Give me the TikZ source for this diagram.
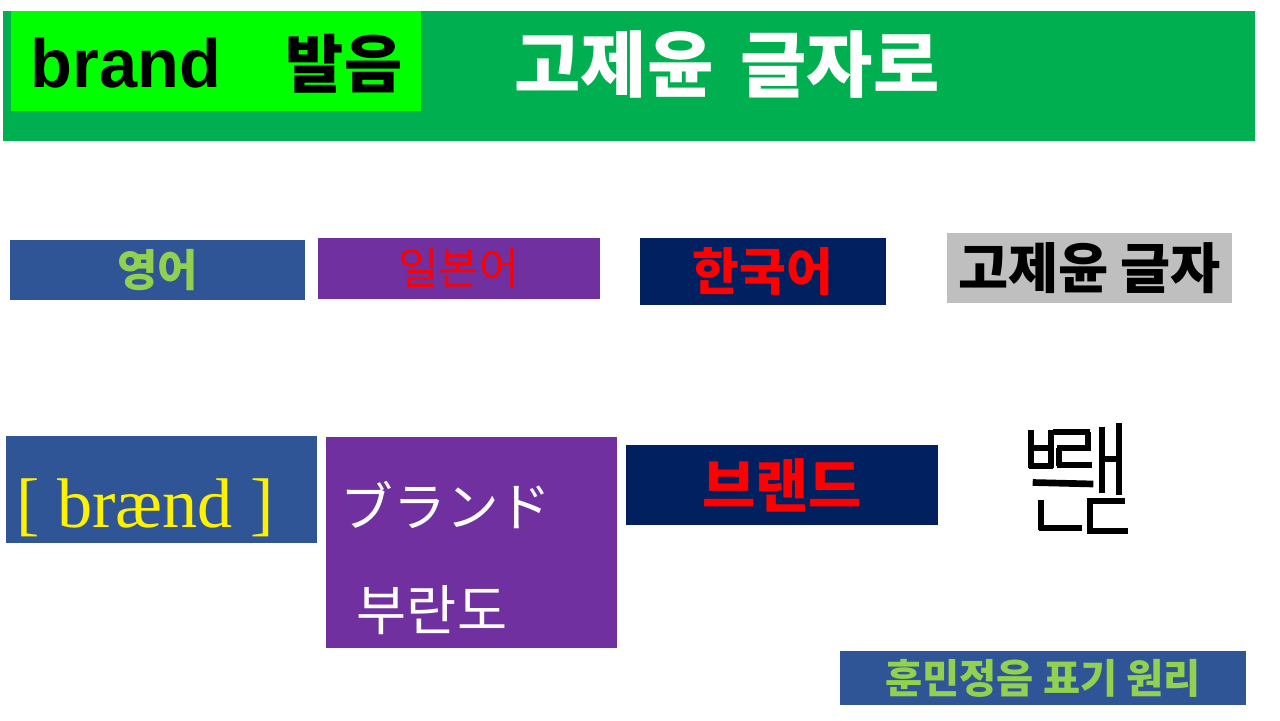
\documentclass[tikz,border=0pt]{standalone}
\usepackage{fontspec}
\setmainfont{Liberation Serif}
\newfontfamily\krfont{Noto Sans CJK KR}
\newfontfamily\jpfont{Noto Sans CJK JP}
\newfontfamily\latinsans{Liberation Sans}
\usetikzlibrary{positioning}

\definecolor{bargreen}{HTML}{00B050}
\definecolor{limegreen}{HTML}{00FF00}
\definecolor{boxblue}{HTML}{2F5597}
\definecolor{boxpurple}{HTML}{7030A0}
\definecolor{boxnavy}{HTML}{002060}
\definecolor{boxgray}{HTML}{BFBFBF}
\definecolor{leafgreen}{HTML}{92D050}

\newcommand\fsz[1]{\fontsize{#1}{#1}\selectfont}

\begin{document}
\begin{tikzpicture}[x=0.02cm,y=-0.02cm,
  box/.style={inner sep=0pt,outer sep=0pt},
  jamo/.style={line width=3.3pt,line cap=butt}]
\useasboundingbox (0,0) rectangle (1280,720);

% title bar
\node[box,fill=bargreen,minimum width=25.04cm,minimum height=2.6cm] (bar) at (629,76) {};
\node[box,fill=limegreen,minimum width=8.2cm,minimum height=2cm] (tag) at (216,61) {};
\node[font=\latinsans\bfseries\fsz{39}] (brand) at (126,63) {brand};
\node[font=\krfont\bfseries\fsz{36}] (pron) at (344,64) {발음};
\node[font=\krfont\bfseries\fsz{41},text=white] (title) at (727,65) {고제윤\hspace{0.15em} 글자로};

% languages
\node[box,fill=boxblue,minimum width=5.9cm,minimum height=1.2cm,
  font=\krfont\bfseries\fsz{25},text=leafgreen] (eng) at (157.5,270) {영어};
\node[box,fill=boxpurple,minimum width=5.64cm,minimum height=1.22cm,
  font=\krfont\fsz{25},text=red] (jpn) at (459,268.5) {일본어};
\node[box,fill=boxnavy,minimum width=4.92cm,minimum height=1.34cm,
  font=\krfont\bfseries\fsz{29},text=red] (kor) at (763,271.5) {한국어};
\node[box,fill=boxgray,minimum width=5.7cm,minimum height=1.4cm,
  font=\krfont\bfseries\fsz{31}] (gjy) at (1089.5,268) {고제윤 글자};

% readings
\node[box,fill=boxblue,minimum width=6.22cm,minimum height=2.14cm] (ipabox) at (161.5,489.5) {};
\node[font=\fsz{40},text=yellow] (ipa) at (145,508) {[ brænd ]};
\node[box,fill=boxpurple,minimum width=5.82cm,minimum height=4.22cm] (jpbox) at (471.5,542.5) {};
\node[font=\jpfont\fsz{30},text=white] (kana) at (446,505) {ブランド};
\node[font=\krfont\fsz{31},text=white] (hkana) at (432,610) {부란도};
\node[box,fill=boxnavy,minimum width=6.24cm,minimum height=1.6cm,
  font=\krfont\bfseries\fsz{33},text=red] (korbrand) at (782,485) {브랜드};

% composed letter
\draw[jamo] (1030.7,430) -- (1030.7,468) (1051.3,430) -- (1051.3,468)
  (1030.7,448.3) -- (1051.3,448.3) (1029,465.7) -- (1053,465.7);
\draw[jamo] (1053,432) -- (1090,432) (1088.3,432) -- (1088.3,449)
  (1057,447.7) -- (1090.5,447.7) (1058.7,447.7) -- (1058.7,466)
  (1057,465.3) -- (1092,465.3);
\draw[line width=3.8pt] (1032.7,482.5) -- (1093.3,484);
\draw[jamo] (1102.3,426.7) -- (1102.3,493.3) (1102,459) -- (1117,459)
  (1118.7,423.3) -- (1118.7,495);
\draw[jamo] (1040.7,500) -- (1040.7,530) (1039,528) -- (1081.7,528);
\draw[jamo] (1086.7,500.7) -- (1125,500.7) (1089.7,500.7) -- (1089.7,533)
  (1086.7,530.7) -- (1128.3,530.7);

\node[box,fill=boxblue,minimum width=8.12cm,minimum height=1.08cm,
  font=\krfont\bfseries\fsz{23},text=leafgreen] (hunmin) at (1043,678) {훈민정음 표기 원리};
\end{tikzpicture}
\end{document}
